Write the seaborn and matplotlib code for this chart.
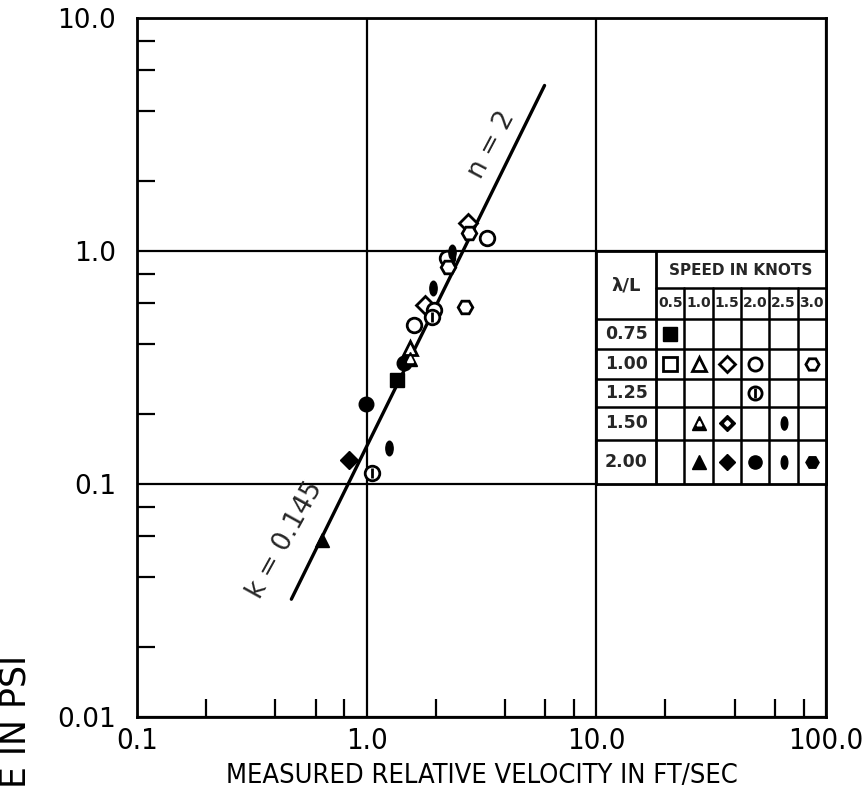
import numpy as np
import pandas as pd
import matplotlib
matplotlib.use("Agg")
import matplotlib.pyplot as plt
import seaborn as sns
from matplotlib.path import Path
from matplotlib.transforms import Affine2D
from matplotlib.ticker import FixedLocator, LogLocator, NullFormatter

# measured points
vel = [0.637, 0.835, 0.99, 1.05, 1.25, 1.35, 1.46, 1.54, 1.54, 1.60, 1.79,
       1.96, 1.92, 1.94, 2.23, 2.27, 2.35, 2.67, 2.75, 2.78, 3.33]
pres = [0.0575, 0.127, 0.22, 0.112, 0.143, 0.279, 0.33, 0.344, 0.384, 0.481, 0.586,
        0.558, 0.52, 0.694, 0.933, 0.853, 0.99, 0.575, 1.32, 1.19, 1.14]
lam = [2.00, 2.00, 2.00, 1.25, 2.00, 0.75, 2.00, 1.50, 1.00, 1.00, 1.00,
       1.00, 1.25, 1.50, 1.00, 1.00, 2.00, 1.00, 1.00, 1.00, 1.00]
spd = [1.0, 1.5, 2.0, 2.0, 2.5, 0.5, 2.0, 1.0, 1.0, 2.0, 1.5,
       2.0, 2.0, 2.5, 2.0, 3.0, 2.5, 3.0, 1.5, 3.0, 2.0]

# fitted curve p = k * v^n
k_fit = 0.145
n_fit = 2
v_fit = [0.47, 5.95]

speeds = [0.5, 1.0, 1.5, 2.0, 2.5, 3.0]
lam_rows = [0.75, 1.00, 1.25, 1.50, 2.00]

ell = Path.unit_circle().transformed(Affine2D().scale(0.5, 1.0))
# (lambda/L, speed) -> (marker, fill)
sym = {
    (0.75, 0.5): ('s', 'filled'),
    (1.00, 0.5): ('s', 'open'),
    (1.00, 1.0): ('^', 'open'),
    (1.00, 1.5): ('D', 'open'),
    (1.00, 2.0): ('o', 'open'),
    (1.00, 3.0): ('H', 'open'),
    (1.25, 2.0): ('o', 'bar'),
    (1.50, 1.0): ('^', 'half'),
    (1.50, 1.5): ('D', 'half'),
    (1.50, 2.5): (ell, 'filled'),
    (2.00, 1.0): ('^', 'filled'),
    (2.00, 1.5): ('D', 'filled'),
    (2.00, 2.0): ('o', 'filled'),
    (2.00, 2.5): (ell, 'filled'),
    (2.00, 3.0): ('H', 'filled'),
}

sns.set_theme(style="white")
plt.rcParams['font.family'] = ['DejaVu Sans']
plt.rcParams['font.stretch'] = 'condensed'


def draw_mark(a, x, y, key, size):
    m, fill = sym[key]
    ms = size * (0.85 if m == 'D' else 1.0)
    if fill == 'open' or fill == 'bar':
        a.plot(x, y, ls='none', marker=m, ms=ms, mfc='white', mec='black', mew=2, zorder=5)
        if fill == 'bar':
            a.plot(x, y, ls='none', marker='|', ms=ms * 0.7, mec='black', mew=2, zorder=6)
    else:
        a.plot(x, y, ls='none', marker=m, ms=ms, mfc='black', mec='black', mew=1, zorder=5)
        if fill == 'half':
            a.plot(x, y, ls='none', marker=m, ms=ms * 0.35, mfc='white', mec='white', zorder=6)


df = pd.DataFrame({'vel': vel, 'pres': pres, 'lam': lam, 'spd': spd})

fig = plt.figure(figsize=(8.64, 8.02), dpi=100)
ax = fig.add_axes([137 / 864, 1 - 717 / 802, 689 / 864, 699 / 802])
ax.set_xscale('log')
ax.set_yscale('log')
ax.set_xlim(0.1, 100)
ax.set_ylim(0.01, 10)

fit = pd.DataFrame({'v': v_fit})
fit['p'] = k_fit * fit['v'] ** n_fit
sns.lineplot(data=fit, x='v', y='p', color='black', lw=2.4, ax=ax, zorder=4)

for (l, s), g in df.groupby(['lam', 'spd']):
    draw_mark(ax, g['vel'], g['pres'], (l, s), 10.5)

ax.xaxis.set_major_locator(FixedLocator([0.1, 1, 10, 100]))
ax.set_xticklabels(['0.1', '1.0', '10.0', '100.0'], fontsize=21)
ax.yaxis.set_major_locator(FixedLocator([0.01, 0.1, 1, 10]))
ax.set_yticklabels(['0.01', '0.1', '1.0', '10.0'], fontsize=19, fontstretch='normal')
for a in (ax.xaxis, ax.yaxis):
    a.set_minor_locator(LogLocator(base=10, subs=[2, 4, 6, 8]))
    a.set_minor_formatter(NullFormatter())
ax.tick_params(which='major', length=0, colors='black')
ax.tick_params(axis='y', which='major', pad=15)
ax.tick_params(axis='x', which='major', pad=7)
ax.tick_params(which='minor', direction='in', length=13, width=1.6, color='black',
               bottom=True, left=True)
ax.grid(True, which='major', color='black', lw=1.6)
for sp in ax.spines.values():
    sp.set_color('black')
    sp.set_linewidth(2)

ax.set_xlabel('MEASURED RELATIVE VELOCITY IN FT/SEC', fontsize=19.5, color='black', labelpad=6)
ax.set_ylabel('')
fig.text(16 / 864, 1 - 655 / 802, 'E IN PSI', rotation=90, ha='center', va='top',
         fontsize=25, color='black', fontstretch='normal')

ax.text(3.5, 2.85, 'n = 2', rotation=62, ha='center', va='center', fontsize=19,
        fontstretch='normal')
ax.text(0.44, 0.0575, 'k = 0.145', rotation=61, ha='center', va='center', fontsize=19,
        fontstretch='normal')

# legend table
tab = ax.inset_axes([2 / 3, 1 / 3, 1 / 3, 1 / 3])
tab.set_xlim(0, 1)
tab.set_ylim(1, 0)
tab.set_xticks([])
tab.set_yticks([])
tab.set_facecolor('white')
tab.set_zorder(7)
for sp in tab.spines.values():
    sp.set_color('black')
    sp.set_linewidth(2)

c0 = 0.26
cw = (1 - c0) / len(speeds)
row_edges = [0.29, 0.42, 0.55, 0.67, 0.81, 1.0]
tab.plot([c0, c0], [0, 1], color='black', lw=2)
tab.plot([c0, 1], [0.16, 0.16], color='black', lw=1.8)
for yy in row_edges[:-1]:
    tab.plot([0, 1], [yy, yy], color='black', lw=1.8)
for i in range(1, len(speeds)):
    tab.plot([c0 + i * cw] * 2, [0.16, 1], color='black', lw=1.8)

tab.text((c0 + 1) / 2, 0.085, 'SPEED IN KNOTS', ha='center', va='center',
         fontsize=11, fontweight='bold', fontstretch='normal')
tab.text(c0 / 2, 0.15, 'λ/L', ha='center', va='center', fontsize=13, fontweight='bold',
         fontstretch='normal')
for i, s in enumerate(speeds):
    tab.text(c0 + (i + 0.5) * cw, 0.225, f'{s:.1f}', ha='center', va='center',
             fontsize=10, fontweight='bold', fontstretch='normal')
for j, l in enumerate(lam_rows):
    yc = (row_edges[j] + row_edges[j + 1]) / 2
    tab.text(c0 / 2, yc, f'{l:.2f}', ha='center', va='center', fontsize=12.5,
             fontweight='bold', fontstretch='normal')
    for i, s in enumerate(speeds):
        if (l, s) in sym:
            draw_mark(tab, c0 + (i + 0.5) * cw, yc, (l, s), 9.5)

fig.savefig('out.png', dpi=100)
